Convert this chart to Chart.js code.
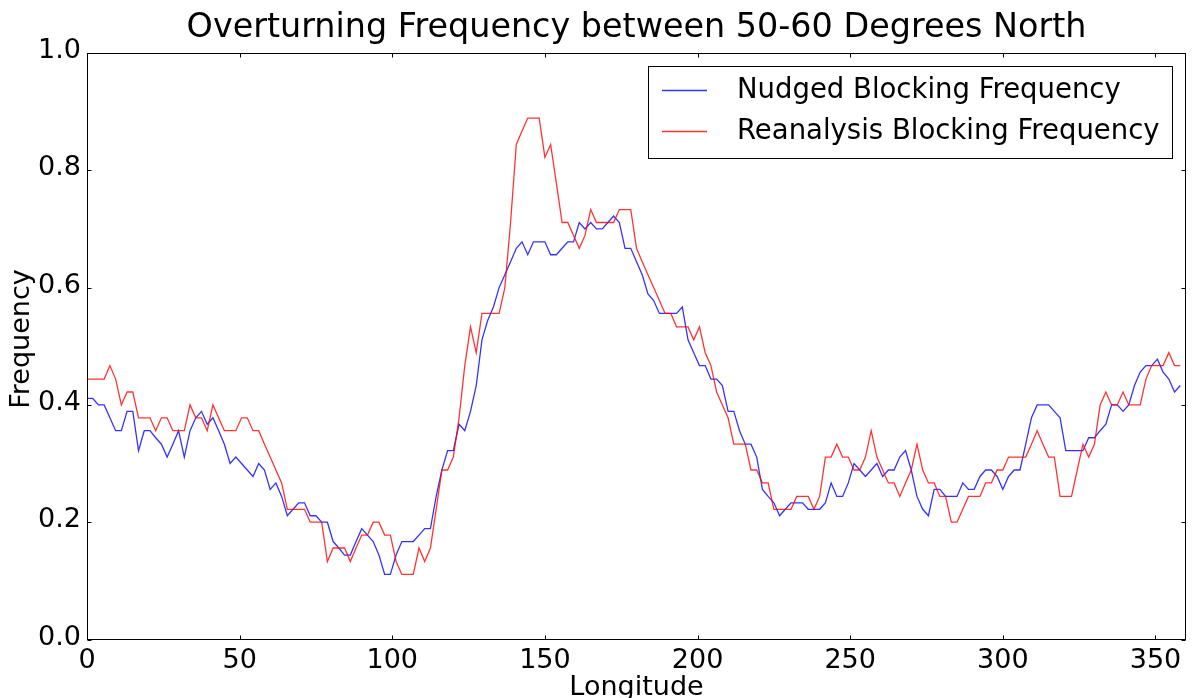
<!DOCTYPE html>
<html>
<head>
<meta charset="utf-8">
<script src="https://cdn.jsdelivr.net/npm/chart.js@4.4.0/dist/chart.umd.min.js"></script>
<style>
html,body{margin:0;padding:0;background:#ffffff;}
#wrap{width:1197px;height:698px;position:relative;}
</style>
</head>
<body>
<div id="wrap"><canvas id="c" width="1197" height="698"></canvas></div>
<script>
// ---- data ----
const titleText = 'Overturning Frequency between 50-60 Degrees North';
const xLabel = 'Longitude';
const yLabel = 'Frequency';
const seriesLabels = ['Nudged Blocking Frequency', 'Reanalysis Blocking Frequency'];
const seriesColors = ['rgba(0,0,255,0.8)', 'rgba(255,0,0,0.8)'];
const xTickValues = [0, 50, 100, 150, 200, 250, 300, 350];
const yTickValues = [0.0, 0.2, 0.4, 0.6, 0.8, 1.0];

// model longitude grid: 1.875 degree spacing, 192 points (0 .. 358.125)
const gridStep = 1.875;
const longitudes = Array.from({length: 192}, (_, i) => i * gridStep);

const nudged = [
0.411,0.411,0.4,0.4,0.378,0.356,0.356,0.389,0.389,0.322,
0.356,0.356,0.344,0.333,0.311,0.333,0.356,0.311,0.356,0.378,
0.389,0.367,0.378,0.356,0.333,0.3,0.311,0.3,0.289,0.278,
0.3,0.289,0.256,0.267,0.244,0.211,0.222,0.233,0.233,0.211,
0.211,0.2,0.2,0.167,0.156,0.144,0.144,0.167,0.189,0.178,
0.167,0.144,0.111,0.111,0.144,0.167,0.167,0.167,0.178,0.189,
0.189,0.244,0.289,0.322,0.322,0.367,0.356,0.389,0.433,0.511,
0.544,0.567,0.6,0.622,0.644,0.667,0.678,0.656,0.678,0.678,
0.678,0.656,0.656,0.667,0.678,0.678,0.711,0.7,0.711,0.7,
0.7,0.711,0.722,0.711,0.667,0.667,0.644,0.622,0.589,0.578,
0.556,0.556,0.556,0.556,0.567,0.511,0.489,0.467,0.467,0.444,
0.444,0.433,0.389,0.389,0.356,0.333,0.333,0.311,0.256,0.244,
0.233,0.211,0.222,0.233,0.233,0.233,0.222,0.222,0.222,0.233,
0.267,0.244,0.244,0.267,0.3,0.289,0.278,0.289,0.3,0.278,
0.289,0.289,0.311,0.322,0.289,0.244,0.222,0.211,0.256,0.256,
0.244,0.244,0.244,0.267,0.256,0.256,0.278,0.289,0.289,0.278,
0.256,0.278,0.289,0.289,0.333,0.378,0.4,0.4,0.4,0.389,
0.378,0.322,0.322,0.322,0.322,0.344,0.344,0.356,0.367,0.4,
0.4,0.389,0.4,0.433,0.456,0.467,0.467,0.478,0.456,0.444,
0.422,0.433
];

const reanalysis = [
0.444,0.444,0.444,0.444,0.467,0.444,0.4,0.422,0.422,0.378,
0.378,0.378,0.356,0.378,0.378,0.356,0.356,0.356,0.4,0.378,
0.378,0.356,0.4,0.378,0.356,0.356,0.356,0.378,0.378,0.356,
0.356,0.333,0.311,0.289,0.267,0.222,0.222,0.222,0.222,0.2,
0.2,0.2,0.133,0.156,0.156,0.156,0.133,0.156,0.178,0.178,
0.2,0.2,0.178,0.178,0.133,0.111,0.111,0.111,0.156,0.133,
0.156,0.222,0.289,0.289,0.311,0.378,0.467,0.533,0.489,0.556,
0.556,0.556,0.556,0.6,0.711,0.844,0.867,0.889,0.889,0.889,
0.822,0.844,0.778,0.711,0.711,0.689,0.667,0.689,0.733,0.711,
0.711,0.711,0.711,0.733,0.733,0.733,0.667,0.644,0.622,0.6,
0.578,0.556,0.556,0.533,0.533,0.533,0.511,0.533,0.489,0.467,
0.422,0.4,0.378,0.333,0.333,0.333,0.289,0.289,0.267,0.267,
0.222,0.222,0.222,0.222,0.244,0.244,0.244,0.222,0.244,0.311,
0.311,0.333,0.311,0.311,0.289,0.289,0.311,0.356,0.311,0.289,
0.267,0.267,0.244,0.267,0.289,0.333,0.289,0.267,0.267,0.244,
0.244,0.2,0.2,0.222,0.244,0.244,0.244,0.267,0.267,0.289,
0.289,0.311,0.311,0.311,0.311,0.333,0.356,0.333,0.311,0.311,
0.244,0.244,0.244,0.289,0.333,0.311,0.333,0.4,0.422,0.4,
0.4,0.422,0.4,0.4,0.4,0.444,0.467,0.467,0.467,0.489,
0.467,0.467
];

// ---- chart ----
const FONT = 'DejaVu Sans';
Chart.defaults.font.family = FONT;
Chart.defaults.color = '#000000';

const toPoints = arr => longitudes.map((x, i) => ({x: x, y: arr[i]}));

const framePlugin = {
  id: 'mplFrame',
  afterDraw(chart) {
    const ctx = chart.ctx;
    const ca = chart.chartArea;
    const xs = chart.scales.x, ys = chart.scales.y;
    const L = Math.round(ca.left) + 0.5, R = Math.round(ca.right) - 0.5;
    const T = Math.round(ca.top) + 0.5, B = Math.round(ca.bottom) - 0.5;
    ctx.save();
    ctx.strokeStyle = '#000000';
    ctx.lineWidth = 1;
    ctx.strokeRect(L, T, R - L, B - T);
    const tl = 4;
    ctx.beginPath();
    xTickValues.forEach(v => {
      const px = Math.round(xs.getPixelForValue(v)) + 0.5;
      ctx.moveTo(px, B); ctx.lineTo(px, B - tl);
      ctx.moveTo(px, T); ctx.lineTo(px, T + tl);
    });
    yTickValues.forEach(v => {
      const py = Math.round(ys.getPixelForValue(v)) + 0.5;
      ctx.moveTo(L, py); ctx.lineTo(L + tl, py);
      ctx.moveTo(R, py); ctx.lineTo(R - tl, py);
    });
    ctx.stroke();

    // title
    ctx.fillStyle = '#000000';
    ctx.font = '33.4px "' + FONT + '"';
    ctx.textAlign = 'center';
    ctx.textBaseline = 'alphabetic';
    ctx.fillText(titleText, (ca.left + ca.right) / 2, 37);

    // x axis label
    ctx.font = '27px "' + FONT + '"';
    ctx.fillText(xLabel, (ca.left + ca.right) / 2, 695);

    // y axis label
    ctx.save();
    ctx.translate(29, 339);
    ctx.rotate(-Math.PI / 2);
    ctx.textAlign = 'center';
    ctx.textBaseline = 'alphabetic';
    ctx.fillText(yLabel, 0, 0);
    ctx.restore();

    // legend
    const bx = 648.5, by = 66.5, bw = 524, bh = 92;
    ctx.fillStyle = '#ffffff';
    ctx.fillRect(bx, by, bw, bh);
    ctx.strokeStyle = '#000000';
    ctx.lineWidth = 1;
    ctx.strokeRect(bx, by, bw, bh);
    chart.data.datasets.forEach((ds, i) => {
      const yy = 90.5 + i * 41;
      ctx.strokeStyle = ds.borderColor;
      ctx.lineWidth = ds.borderWidth;
      ctx.beginPath();
      ctx.moveTo(662, yy); ctx.lineTo(707, yy);
      ctx.stroke();
      ctx.fillStyle = '#000000';
      ctx.font = '27.5px "' + FONT + '"';
      ctx.textAlign = 'left';
      ctx.textBaseline = 'middle';
      ctx.fillText(ds.label, 737, yy);
    });
    ctx.restore();
  }
};

new Chart(document.getElementById('c'), {
  type: 'line',
  data: {
    datasets: [
      {label: seriesLabels[0], data: toPoints(nudged), borderColor: seriesColors[0], borderWidth: 1.3,
       pointRadius: 0, fill: false, tension: 0, order: 1},
      {label: seriesLabels[1], data: toPoints(reanalysis), borderColor: seriesColors[1], borderWidth: 1.3,
       pointRadius: 0, fill: false, tension: 0, order: 0}
    ]
  },
  options: {
    responsive: false,
    animation: false,
    devicePixelRatio: 1,
    layout: {padding: {top: 53, right: 11, left: 0, bottom: 0}},
    plugins: {legend: {display: false}, title: {display: false}, tooltip: {enabled: false}},
    scales: {
      x: {
        type: 'linear', min: 0, max: 360,
        grid: {display: false, drawTicks: false}, border: {display: false},
        afterBuildTicks: s => { s.ticks = xTickValues.map(v => ({value: v})); },
        afterFit: s => { s.height = 58.5; },
        ticks: {font: {size: 27}, color: '#000000', padding: 5, maxRotation: 0, autoSkip: false,
                callback: v => String(v)}
      },
      y: {
        type: 'linear', min: 0, max: 1,
        grid: {display: false, drawTicks: false}, border: {display: false},
        afterBuildTicks: s => { s.ticks = yTickValues.map(v => ({value: v})); },
        afterFit: s => { s.width = 87; },
        ticks: {font: {size: 27}, color: '#000000', padding: 6, labelOffset: -2,
                callback: v => Number(v).toFixed(1)}
      }
    }
  },
  plugins: [framePlugin]
});
</script>
</body>
</html>
